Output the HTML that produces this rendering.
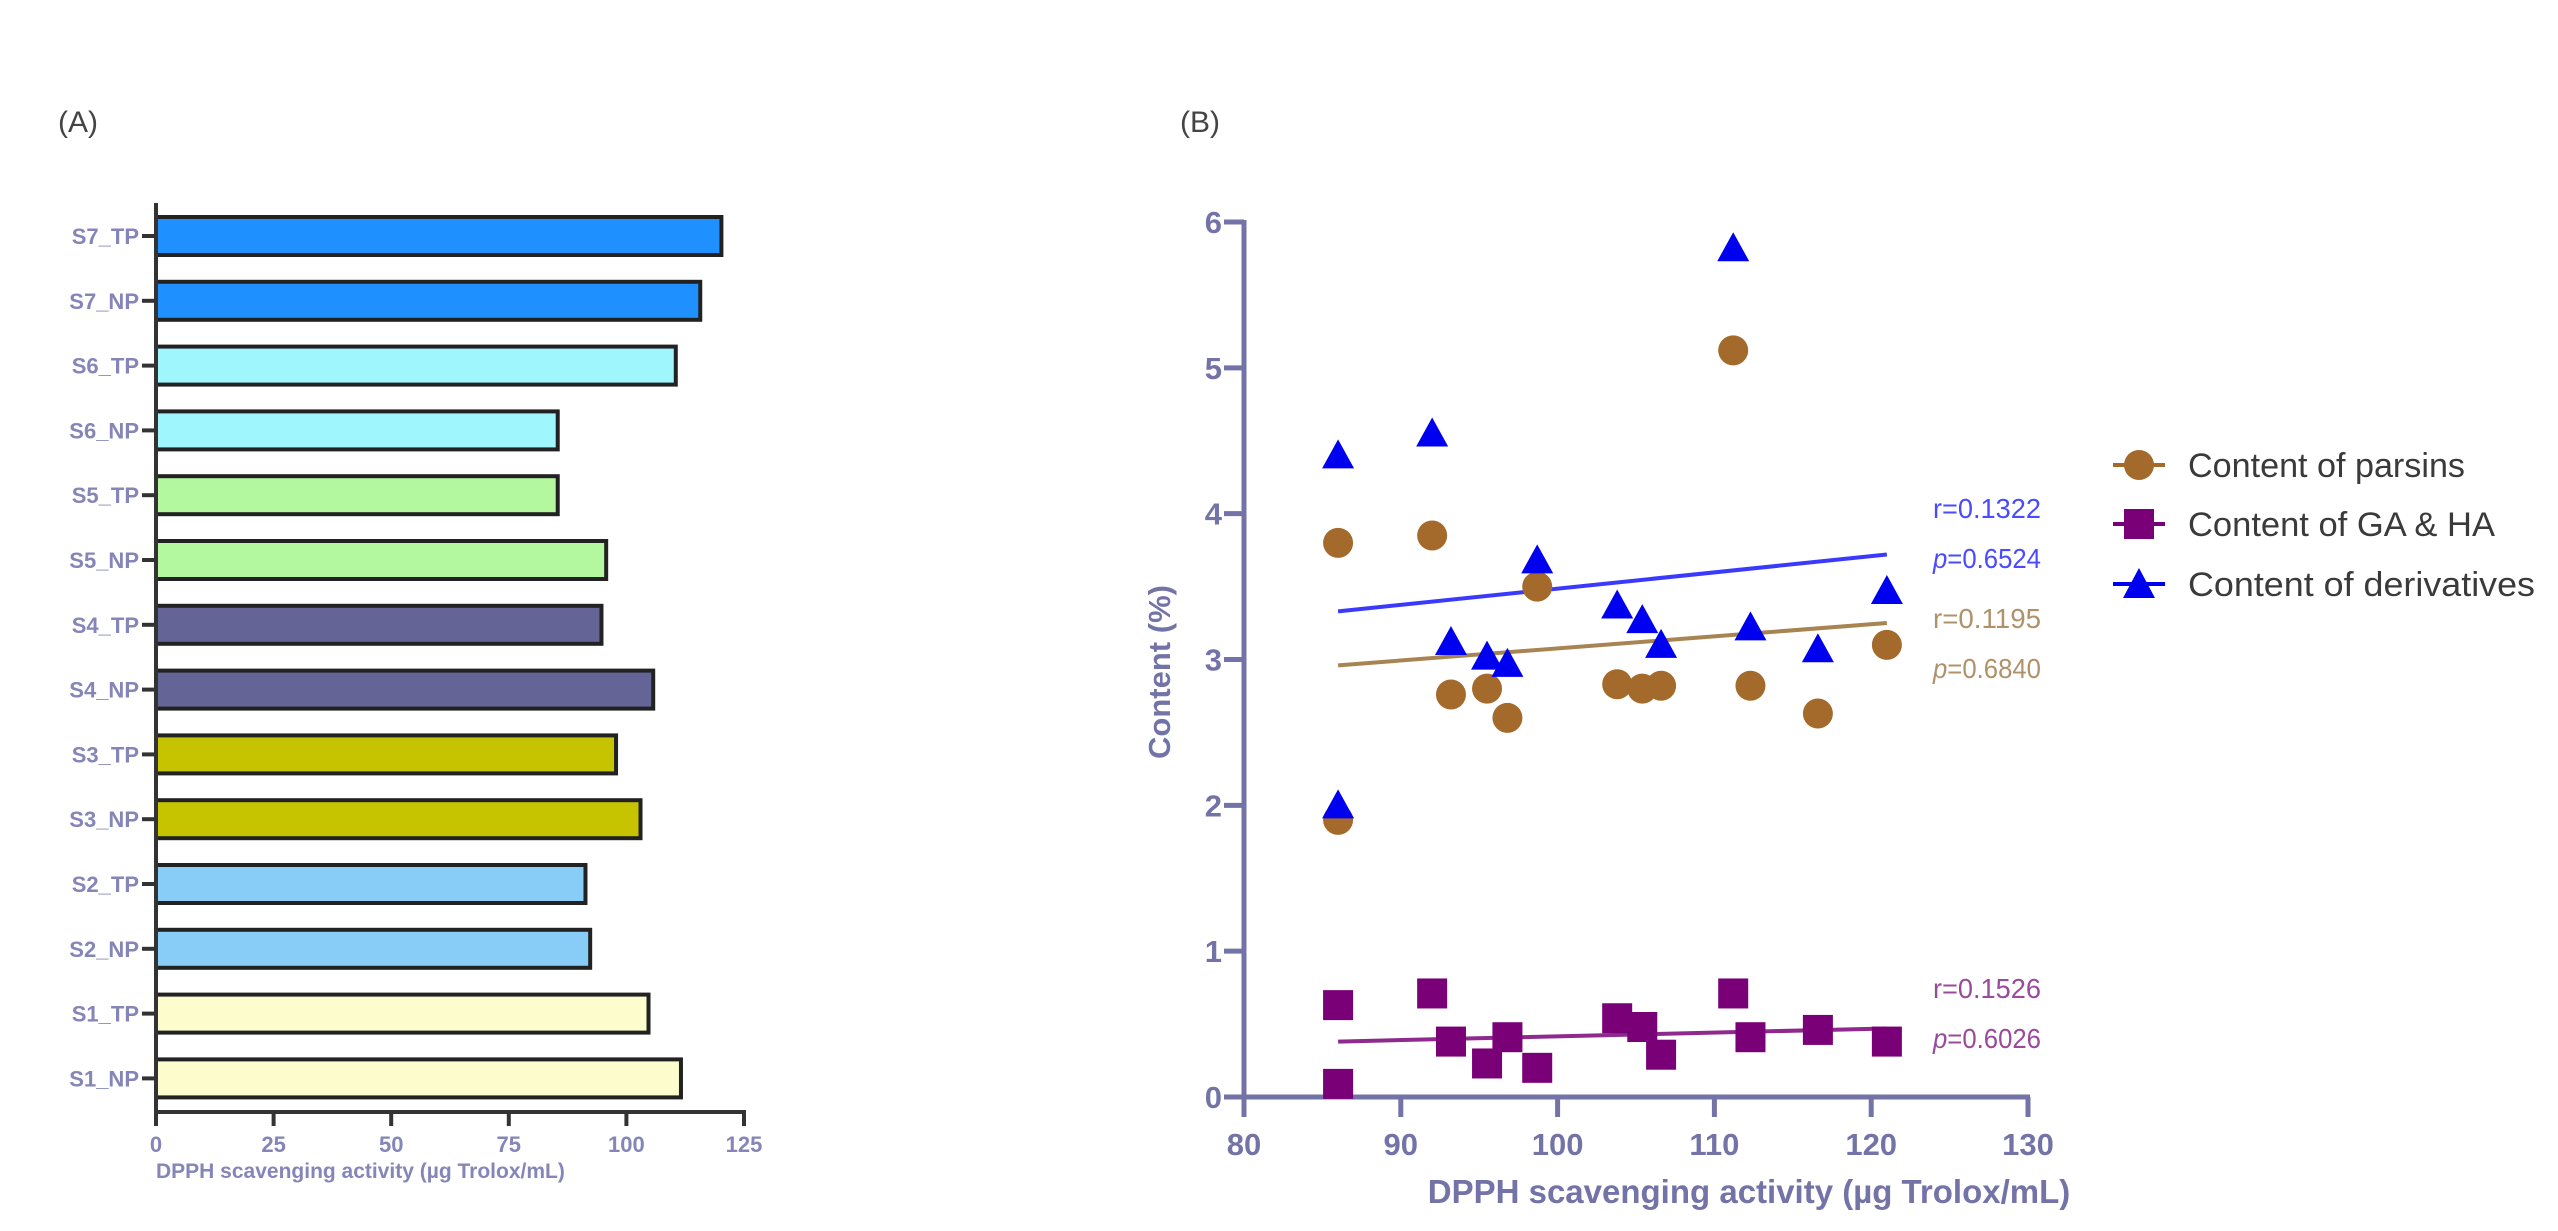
<!DOCTYPE html>
<html><head><meta charset="utf-8">
<style>
html,body{margin:0;padding:0;background:#fff;}
svg{display:block;}
text{font-family:"Liberation Sans",sans-serif;}
</style></head>
<body>
<svg id="chart" width="2558" height="1231" viewBox="0 0 2558 1231" xmlns="http://www.w3.org/2000/svg">
<rect x="0" y="0" width="2558" height="1231" fill="#fff"/>
<text x="58" y="132" font-size="30" fill="#444">(A)</text>
<text x="1180" y="132" font-size="30" fill="#444">(B)</text>
<g id="pa"></g>
<g id="pb"></g>
</svg>
<script>
// ---- Panel A data ----
const barCategories = ["S7_TP","S7_NP","S6_TP","S6_NP","S5_TP","S5_NP","S4_TP","S4_NP","S3_TP","S3_NP","S2_TP","S2_NP","S1_TP","S1_NP"];
const barValues = [120.2,115.7,110.5,85.4,85.4,95.7,94.7,105.7,97.8,103.0,91.3,92.3,104.7,111.6];
const barColors = ["#1e90ff","#1e90ff","#9ff6fc","#9ff6fc","#b3f79e","#b3f79e","#646497","#646497","#c6c400","#c6c400","#87cdf8","#87cdf8","#fdfccd","#fdfccd"];
const barTicks = [0,25,50,75,100,125];

// ---- Panel B data ----
const dpphX = [86.0,86.0,92.0,93.2,95.5,96.8,98.7,103.8,105.4,106.6,111.2,112.3,116.6,121.0];
const parsinsY = [1.9,3.8,3.85,2.76,2.8,2.6,3.5,2.83,2.8,2.82,5.12,2.82,2.63,3.1];
const derivX = [86.0,86.0,92.0,93.2,95.5,96.8,98.7,103.8,105.4,106.6,111.2,112.3,116.6,121.0];
const derivY = [2.0,4.4,4.55,3.12,3.02,2.97,3.68,3.37,3.27,3.1,5.82,3.22,3.07,3.47];
const gahaY = [0.63,0.09,0.71,0.38,0.23,0.41,0.2,0.54,0.48,0.29,0.71,0.41,0.46,0.38];
const fitParsins = [2.96,3.25];
const fitDeriv = [3.33,3.72];
const fitGaha = [0.38,0.47];
const fitRange = [86,121];
const xTicksB = [80,90,100,110,120,130];
const yTicksB = [0,1,2,3,4,5,6];

const NS="http://www.w3.org/2000/svg";
function mk(parent,tag,attrs,txt){const e=document.createElementNS(NS,tag);for(const k in attrs)e.setAttribute(k,attrs[k]);if(txt!==undefined)e.textContent=txt;parent.appendChild(e);return e;}

// ---- Panel A ----
const pa=document.getElementById('pa');
const ax0=156, ax1=744, aTop=203, aBot=1112, rowTop=236, rowStep=64.8;
const xA=v=>ax0+(v-0)/125*(ax1-ax0);
const yA=i=>rowTop+i*rowStep;
barCategories.forEach((c,i)=>{
  const r=mk(pa,'rect',{x:xA(0),y:yA(i)-19,width:xA(barValues[i])-xA(0),height:38,fill:barColors[i],stroke:"#222",'stroke-width':4});
  
  
  const t=mk(pa,'line',{x1:ax0-14,x2:ax0,y1:yA(i),y2:yA(i),stroke:"#333",'stroke-width':4});
  
  
  const l=mk(pa,'text',{x:ax0-17,y:yA(i)+8,'font-size':22,'font-weight':'bold',fill:"#8585b8",'text-anchor':'end'},c);
  
  
});
let e=mk(pa,'line',{x1:ax0,x2:ax0,y1:aTop,y2:aBot+2,stroke:"#333",'stroke-width':4});


e=mk(pa,'line',{x1:ax0-2,x2:ax1+2,y1:aBot,y2:aBot,stroke:"#333",'stroke-width':4});


barTicks.forEach(v=>{
  const t=mk(pa,'line',{x1:xA(v),x2:xA(v),y1:aBot,y2:aBot+14,stroke:"#333",'stroke-width':4});
  
  
  const l=mk(pa,'text',{x:xA(v),y:aBot+40,'font-size':22,'font-weight':'bold',fill:"#8585b8",'text-anchor':'middle'},String(v));
  
  
});
e=mk(pa,'text',{x:ax0,y:1178,'font-size':21,'font-weight':'bold',fill:"#8585b8"},"DPPH scavenging activity (µg Trolox/mL)");



// ---- Panel B ----
const pb=document.getElementById('pb');
const bx0=1244,bx1=2028,by0=1097,by6=222;
const xB=v=>bx0+(v-80)/50*(bx1-bx0);
const yB=v=>by0-v/6*(by0-by6);
const axC="#7373a8";
e=mk(pb,'line',{x1:bx0,x2:bx0,y1:by6-2,y2:by0+20,stroke:axC,'stroke-width':5});


e=mk(pb,'line',{x1:bx0-20,x2:bx1+2,y1:by0,y2:by0,stroke:axC,'stroke-width':5});


yTicksB.forEach(v=>{
  const t=mk(pb,'line',{x1:bx0-20,x2:bx0,y1:yB(v),y2:yB(v),stroke:axC,'stroke-width':5});
  
  
  const l=mk(pb,'text',{x:bx0-22,y:yB(v)+11,'font-size':31,'font-weight':'bold',fill:axC,'text-anchor':'end'},String(v));
  
  
});
xTicksB.forEach(v=>{
  const t=mk(pb,'line',{x1:xB(v),x2:xB(v),y1:by0,y2:by0+20,stroke:axC,'stroke-width':5});
  
  
  const l=mk(pb,'text',{x:xB(v),y:by0+58,'font-size':31,'font-weight':'bold',fill:axC,'text-anchor':'middle'},String(v));
  
  
});
e=mk(pb,'text',{x:1749,y:1203,'font-size':33,'font-weight':'bold',fill:axC,'text-anchor':'middle'},"DPPH scavenging activity (µg Trolox/mL)");


e=mk(pb,'text',{x:0,y:0,'font-size':31,'font-weight':'bold',fill:axC,'text-anchor':'middle',transform:'translate(1170,672) rotate(-90)'},"Content (%)");



// fit lines
[[fitDeriv,"#3a3aff","fit-line-derivatives"],[fitParsins,"#a88452","fit-line-parsins"],[fitGaha,"#8e2a8e","fit-line-ga-ha"]].forEach(([f,c,n])=>{
  const l=mk(pb,'line',{x1:xB(fitRange[0]),x2:xB(fitRange[1]),y1:yB(f[0]),y2:yB(f[1]),stroke:c,'stroke-width':4});
  
  
});

// markers
dpphX.forEach((x,i)=>{
  const c=mk(pb,'circle',{cx:xB(x),cy:yB(parsinsY[i]),r:15,fill:"#a36a2c"});
  
  
});
dpphX.forEach((x,i)=>{
  const s=mk(pb,'rect',{x:xB(x)-15,y:yB(gahaY[i])-15,width:30,height:30,fill:"#7a0078"});
  
  
});
derivX.forEach((x,i)=>{
  const cx=xB(x),cy=yB(derivY[i]);
  const p=mk(pb,'polygon',{points:`${cx},${cy-16} ${cx+16},${cy+13} ${cx-16},${cy+13}`,fill:"#0000f0"});
  
  
});

// annotations
[["r=0.1322",1933,518,"#4a4aff"],["p=0.6524",1933,568,"#4a4aff"],["r=0.1195",1933,628,"#b0926a"],["p=0.6840",1933,678,"#b0926a"],["r=0.1526",1933,998,"#9a4a9a"],["p=0.6026",1933,1048,"#9a4a9a"]].forEach(([t,x,y,c])=>{
  const tx=mk(pb,'text',{x:x,y:y,'font-size':28,fill:c,textLength:108,lengthAdjust:'spacingAndGlyphs'});
  if(t[0]==='p'){mk(tx,'tspan',{'font-style':'italic'},'p');mk(tx,'tspan',{},t.slice(1));}else{tx.textContent=t;}
  
  
});

// legend
const legY=[465,524,584];
const legTxt=["Content of parsins","Content of GA & HA","Content  of  derivatives"];
const legLen=[277,307,347];
legY.forEach((y,i)=>{
  const g=mk(pb,'g',{});
  
  
  const col=["#a36a2c","#7a0078","#0000f0"][i];
  mk(g,'line',{x1:2113,x2:2165,y1:y,y2:y,stroke:col,'stroke-width':4});
  if(i===0) mk(g,'circle',{cx:2139,cy:y,r:15,fill:col});
  if(i===1) mk(g,'rect',{x:2124,y:y-15,width:30,height:30,fill:col});
  if(i===2) mk(g,'polygon',{points:`2139,${y-16} 2155,${y+14} 2123,${y+14}`,fill:col});
  mk(g,'text',{x:2188,y:y+12,'font-size':34,fill:"#3a3a3a",textLength:legLen[i],lengthAdjust:'spacingAndGlyphs'},legTxt[i]);
});
</script>
</body></html>
